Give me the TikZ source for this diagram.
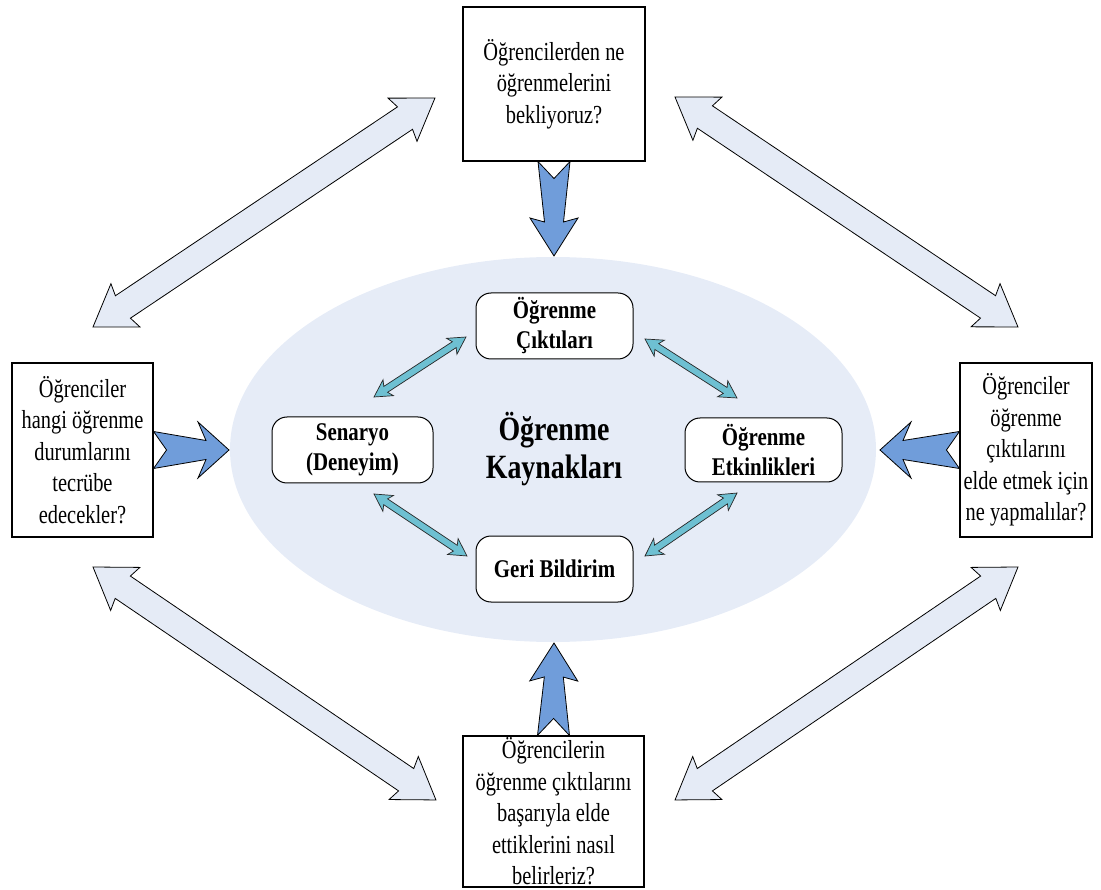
\documentclass[tikz,border=0pt]{standalone}
\usepackage{fontspec}
\setmainfont{Liberation Serif}
\newfontfamily\condserif[FakeStretch=0.82]{Liberation Serif}
\newfontfamily\askfont[FakeStretch=0.785]{Liberation Serif}
\usetikzlibrary{shapes.geometric}

\definecolor{poolfill}{RGB}{230,236,247}
\definecolor{paleblue}{RGB}{229,235,246}
\definecolor{pushblue}{RGB}{112,157,218}
\definecolor{linkcyan}{RGB}{110,192,210}

\makeatletter
% length and direction of the segment between two points
\newcommand\arrowframe[2]{%
  \path (#1) coordinate (arrA) (#2) coordinate (arrB);%
  \pgfpointdiff{\pgfpointanchor{arrA}{center}}{\pgfpointanchor{arrB}{center}}%
  \edef\arrdx{\strip@pt\pgf@x}\edef\arrdy{\strip@pt\pgf@y}%
  \pgfmathsetmacro\arrlen{veclen(\arrdx,\arrdy)}%
  \pgfmathsetmacro\arrang{atan2(\arrdy,\arrdx)}%
}
\makeatother

% double-headed block arrow: ends, style, shaft half, head half, head length, sweep
\newcommand\twowayarrow[7]{%
  \arrowframe{#1}{#2}%
  \begin{scope}[shift={(arrA)},rotate=\arrang]
    \path[#3] (0pt,0pt) -- ({#6pt+#7pt},#5pt) -- (#6pt,#4pt)
      -- ({\arrlen pt-#6pt},#4pt) -- ({\arrlen pt-#6pt-#7pt},#5pt)
      -- (\arrlen pt,0pt)
      -- ({\arrlen pt-#6pt-#7pt},-#5pt) -- ({\arrlen pt-#6pt},-#4pt)
      -- (#6pt,-#4pt) -- ({#6pt+#7pt},-#5pt) -- cycle;
  \end{scope}}

% notched, tapering block arrow: back, tip, style,
% back half, notch depth, front shaft half, head half, head length, sweep
\newcommand\pusharrow[9]{%
  \arrowframe{#1}{#2}%
  \begin{scope}[shift={(arrA)},rotate=\arrang]
    \path[#3] (0pt,#4pt) -- (#5pt,0pt) -- (0pt,-#4pt)
      -- ({\arrlen pt-#8pt},-#6pt) -- ({\arrlen pt-#8pt-#9pt},-#7pt)
      -- (\arrlen pt,0pt)
      -- ({\arrlen pt-#8pt-#9pt},#7pt) -- ({\arrlen pt-#8pt},#6pt) -- cycle;
  \end{scope}}

\begin{document}
\begin{tikzpicture}[x=1pt,y=-1pt,
  question/.style={draw, line width=1.1pt, fill=white, inner sep=0pt,
    align=center, font=\askfont\fontsize{26}{31.5}\selectfont},
  stage/.style={draw, line width=1pt, rounded corners=15pt, fill=white,
    inner sep=0pt, align=center, minimum width=157pt, minimum height=66pt,
    font=\condserif\bfseries\fontsize{25.5}{30}\selectfont},
  palearrow/.style={fill=paleblue, draw=black, line width=0.8pt, line join=miter},
  linkarrow/.style={fill=linkcyan, draw=black!85, line width=0.7pt},
  pushstyle/.style={fill=pushblue, draw=black, line width=0.8pt}]
\useasboundingbox (0,0) rectangle (1101,890);

% central pool of resources
\node[ellipse, fill=poolfill, inner sep=0pt, minimum width=646pt,
  minimum height=385pt] (pool) at (553,449.5) {};

% guiding questions
\node[question, minimum width=182pt, minimum height=154pt] (qtop) at (554,84)
  {Öğrencilerden ne\\öğrenmelerini\\bekliyoruz?};
\node[question, minimum width=141pt, minimum height=174pt] (qleft) at (82.5,450)
  {Öğrenciler\\hangi öğrenme\\durumlarını\\tecrübe\\edecekler?};
\node[question, minimum width=132pt, minimum height=174pt] (qright) at (1026,450)
  {Öğrenciler\\öğrenme\\çıktılarını\\elde etmek için\\ne yapmalılar?};
\node[question, minimum width=181pt, minimum height=151pt] (qbottom) at (553.5,811.5)
  {Öğrencilerin\\öğrenme çıktılarını\\başarıyla elde\\ettiklerini nasıl\\belirleriz?};

% stages inside the pool
\node[stage] (outcomes) at (554.5,326) {Öğrenme\\Çıktıları};
\node[stage, minimum width=161pt] (scenario) at (352.5,450) {Senaryo\\(Deneyim)};
\node[stage, minimum height=64pt] (activities) at (763.5,450) {Öğrenme\\Etkinlikleri};
\node[stage] (feedback) at (554.5,569) {Geri Bildirim};

\node[align=center, font=\condserif\bfseries\fontsize{34}{38}\selectfont]
  (resources) at (554,449) {Öğrenme\\Kaynakları};

% arrow ends
\coordinate (tlA) at (93,327);   \coordinate (tlB) at (435,98);
\coordinate (trA) at (675,97);   \coordinate (trB) at (1018,327);
\coordinate (blA) at (93,567);   \coordinate (blB) at (436,800);
\coordinate (brA) at (1018,567); \coordinate (brB) at (675,800);

\coordinate (c1A) at (374,397); \coordinate (c1B) at (466,337);
\coordinate (c2A) at (645,339); \coordinate (c2B) at (737,398);
\coordinate (c3A) at (374,494); \coordinate (c3B) at (467,556);
\coordinate (c4A) at (645,556); \coordinate (c4B) at (737,493);

\coordinate (ptop) at (554,256);
\coordinate (pbottom) at (554,643);
\coordinate (pleft) at (229,450);
\coordinate (pright) at (880,450);

% links between the questions
\twowayarrow{tlA}{tlB}{palearrow}{13.5}{26}{36}{3}
\twowayarrow{trA}{trB}{palearrow}{13.5}{26}{36}{3}
\twowayarrow{blA}{blB}{palearrow}{13.5}{26}{36}{3}
\twowayarrow{brA}{brB}{palearrow}{13.5}{26}{36}{3}

% links between the stages
\twowayarrow{c1A}{c1B}{linkarrow}{3.5}{9.5}{14}{3}
\twowayarrow{c2A}{c2B}{linkarrow}{3.5}{9.5}{14}{3}
\twowayarrow{c3A}{c3B}{linkarrow}{3.5}{9.5}{14}{3}
\twowayarrow{c4A}{c4B}{linkarrow}{3.5}{9.5}{14}{3}

% questions feeding the pool
\pusharrow{qtop.south}{ptop}{pushstyle}{16}{17}{9.5}{24}{34}{4}
\pusharrow{qbottom.north}{pbottom}{pushstyle}{16}{17}{9.5}{24}{34}{4}
\pusharrow{qleft.east}{pleft}{pushstyle}{18.5}{13}{9.5}{28}{23}{8}
\pusharrow{qright.west}{pright}{pushstyle}{18.5}{13}{9.5}{28}{23}{8}
\end{tikzpicture}
\end{document}
